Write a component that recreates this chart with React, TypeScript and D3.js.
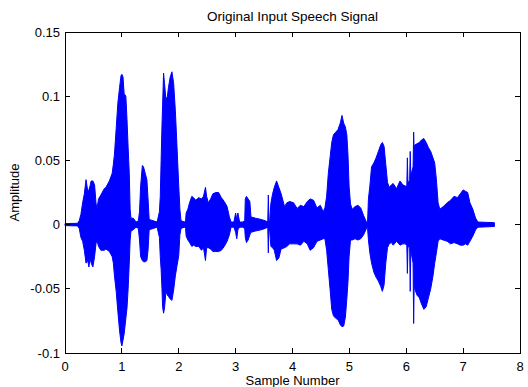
import React from "react";
import * as d3 from "d3";

// Envelope of the speech waveform (sample number in units shown on the axis)
const times = [
  0.0, 0.22, 0.25, 0.28, 0.31, 0.34, 0.37, 0.4, 0.42, 0.44, 0.46, 0.49, 0.52, 0.545, 0.56, 0.59, 0.63, 0.69, 0.72, 0.78,
  0.83, 0.85, 0.87, 0.9, 0.93, 0.96, 0.985, 1.0, 1.02, 1.04, 1.07, 1.09, 1.11, 1.13, 1.145, 1.16, 1.2, 1.25, 1.29, 1.31,
  1.33, 1.36, 1.38, 1.41, 1.44, 1.46, 1.48, 1.55, 1.62, 1.66, 1.675, 1.69, 1.705, 1.716, 1.733, 1.75, 1.775, 1.8, 1.82, 1.85,
  1.88, 1.91, 1.94, 1.97, 2.0, 2.02, 2.04, 2.1, 2.12, 2.13, 2.16, 2.19, 2.23, 2.26, 2.3, 2.35, 2.4, 2.435, 2.47, 2.49,
  2.52, 2.56, 2.6, 2.65, 2.7, 2.75, 2.8, 2.85, 2.89, 2.92, 2.97, 3.0, 3.02, 3.04, 3.07, 3.12, 3.16, 3.17, 3.19, 3.22,
  3.25, 3.27, 3.35, 3.45, 3.52, 3.565, 3.575, 3.585, 3.6, 3.62, 3.65, 3.68, 3.72, 3.76, 3.8, 3.86, 3.9, 3.95, 4.02, 4.08,
  4.14, 4.2, 4.26, 4.31, 4.37, 4.43, 4.49, 4.54, 4.57, 4.6, 4.63, 4.66, 4.69, 4.72, 4.76, 4.8, 4.84, 4.87, 4.9, 4.93,
  4.955, 4.975, 4.995, 5.02, 5.05, 5.1, 5.15, 5.2, 5.25, 5.29, 5.31, 5.32, 5.335, 5.36, 5.39, 5.43, 5.47, 5.51, 5.55, 5.58,
  5.61, 5.64, 5.67, 5.7, 5.74, 5.77, 5.83, 5.89, 5.94, 5.98, 6.01, 6.02, 6.03, 6.06, 6.07, 6.08, 6.12, 6.13, 6.14, 6.15,
  6.19, 6.23, 6.27, 6.31, 6.35, 6.39, 6.43, 6.47, 6.5, 6.53, 6.56, 6.59, 6.65, 6.72, 6.78, 6.84, 6.9, 6.95, 7.0, 7.04,
  7.08, 7.12, 7.17, 7.22, 7.26, 7.55,
];
const upper = [
  0.0008, 0.001, 0.003, 0.008, 0.017, 0.024, 0.035, 0.026, 0.027, 0.03, 0.034, 0.034, 0.031, 0.017, 0.012, 0.02, 0.023, 0.028, 0.029, 0.034,
  0.04, 0.047, 0.055, 0.075, 0.095, 0.107, 0.116, 0.117, 0.115, 0.102, 0.1, 0.082, 0.06, 0.04, 0.012, 0.005, 0.005, 0.002, 0.003, 0.01,
  0.03, 0.046, 0.045, 0.04, 0.035, 0.02, 0.004, 0.003, 0.002, 0.01, 0.022, 0.05, 0.077, 0.093, 0.118, 0.11, 0.097, 0.1, 0.107, 0.115,
  0.119, 0.11, 0.089, 0.06, 0.03, 0.012, 0.003, 0.002, 0.003, 0.009, 0.012, 0.017, 0.022, 0.021, 0.019, 0.021, 0.02, 0.022, 0.029, 0.022,
  0.017, 0.02, 0.024, 0.025, 0.025, 0.021, 0.018, 0.014, 0.006, 0.002, 0.002, 0.009, 0.004, 0.009, 0.002, 0.002, 0.003, 0.02, 0.022, 0.02,
  0.018, 0.006, 0.005, 0.004, 0.003, 0.002, 0.023, 0.003, 0.004, 0.0165, 0.024, 0.029, 0.034, 0.029, 0.024, 0.014, 0.017, 0.018, 0.017, 0.0126,
  0.015, 0.014, 0.018, 0.02, 0.019, 0.013, 0.015, 0.01, 0.013, 0.022, 0.04, 0.052, 0.064, 0.07, 0.072, 0.074, 0.079, 0.085, 0.079, 0.076,
  0.07, 0.055, 0.03, 0.016, 0.012, 0.014, 0.015, 0.013, 0.007, 0.003, 0.001, 0.002, 0.02, 0.03, 0.045, 0.048, 0.052, 0.057, 0.062, 0.064,
  0.061, 0.047, 0.033, 0.029, 0.031, 0.032, 0.028, 0.034, 0.031, 0.03, 0.03, 0.052, 0.032, 0.035, 0.057, 0.038, 0.045, 0.072, 0.055, 0.062,
  0.063, 0.064, 0.066, 0.067, 0.064, 0.06, 0.057, 0.052, 0.048, 0.035, 0.017, 0.012, 0.014, 0.017, 0.019, 0.022, 0.021, 0.024, 0.027, 0.026,
  0.025, 0.017, 0.012, 0.005, 0.002, 0.0015,
];
const lower = [
  -0.0008, -0.001, -0.003, -0.01, -0.013, -0.02, -0.03, -0.028, -0.033, -0.026, -0.03, -0.033, -0.025, -0.015, -0.012, -0.017, -0.02, -0.02, -0.019, -0.021,
  -0.025, -0.03, -0.04, -0.052, -0.068, -0.083, -0.092, -0.0945, -0.09, -0.085, -0.073, -0.065, -0.05, -0.03, -0.012, -0.005, -0.004, -0.002, -0.003, -0.012,
  -0.025, -0.028, -0.029, -0.029, -0.028, -0.02, -0.004, -0.003, -0.002, -0.01, -0.025, -0.035, -0.05, -0.064, -0.069, -0.065, -0.052, -0.055, -0.056, -0.058,
  -0.059, -0.051, -0.04, -0.032, -0.024, -0.008, -0.003, -0.002, -0.003, -0.009, -0.012, -0.014, -0.017, -0.016, -0.017, -0.017, -0.02, -0.018, -0.028, -0.018,
  -0.018, -0.019, -0.021, -0.021, -0.021, -0.02, -0.017, -0.013, -0.008, -0.002, -0.002, -0.006, -0.011, -0.004, -0.002, -0.002, -0.003, -0.01, -0.014, -0.012,
  -0.008, -0.006, -0.005, -0.004, -0.003, -0.002, -0.022, -0.003, -0.005, -0.017, -0.018, -0.02, -0.028, -0.026, -0.019, -0.018, -0.017, -0.015, -0.015, -0.015,
  -0.016, -0.013, -0.015, -0.02, -0.018, -0.013, -0.012, -0.011, -0.011, -0.02, -0.035, -0.05, -0.066, -0.071, -0.073, -0.074, -0.078, -0.0795, -0.079, -0.072,
  -0.058, -0.045, -0.025, -0.012, -0.012, -0.011, -0.012, -0.011, -0.008, -0.004, -0.002, -0.003, -0.012, -0.022, -0.03, -0.037, -0.041, -0.044, -0.048, -0.052,
  -0.047, -0.03, -0.018, -0.015, -0.014, -0.016, -0.013, -0.016, -0.015, -0.015, -0.016, -0.038, -0.017, -0.018, -0.052, -0.02, -0.03, -0.077, -0.045, -0.05,
  -0.055, -0.057, -0.062, -0.066, -0.064, -0.057, -0.05, -0.04, -0.03, -0.022, -0.013, -0.011, -0.012, -0.013, -0.015, -0.014, -0.015, -0.016, -0.016, -0.015,
  -0.016, -0.013, -0.009, -0.004, -0.002, -0.0015,
];

const xTicks = [0, 1, 2, 3, 4, 5, 6, 7, 8];
const yTicks = [-0.1, -0.05, 0, 0.05, 0.1, 0.15];
const yTickLabels = ["-0.1", "-0.05", "0", "0.05", "0.1", "0.15"];

const W = 528;
const H = 387;
const L = 65;
const R = 520;
const T = 32;
const B = 353;
const FONT = "'Liberation Sans', Arial, Helvetica, sans-serif";

export default function App() {
  const x = d3.scaleLinear().domain([0, 8]).range([L, R]);
  const y = d3.scaleLinear().domain([-0.1, 0.15]).range([B, T]);
  const pts = times.map((t, i) => ({ t, hi: upper[i], lo: lower[i] }));
  const area = d3
    .area<{ t: number; hi: number; lo: number }>()
    .x((d) => x(d.t))
    .y0((d) => y(d.lo))
    .y1((d) => y(d.hi));
  const tl = 5;
  return (
    <svg
      width={W}
      height={H}
      style={{ position: "absolute", left: 0, top: 0, background: "#fff" }}
      fontFamily={FONT}
    >
      <rect x={0} y={0} width={W} height={H} fill="#fff" />
      <path d={area(pts) || ""} fill="#0000ff" stroke="#0000ff" strokeWidth={1} strokeLinejoin="miter" />
      <g stroke="#000" strokeWidth={1} shapeRendering="crispEdges" fill="none">
        <rect x={L} y={T} width={R - L} height={B - T} />
        {xTicks.map((v) => (
          <g key={"x" + v}>
            <line x1={x(v)} x2={x(v)} y1={B} y2={B - tl} />
            <line x1={x(v)} x2={x(v)} y1={T} y2={T + tl} />
          </g>
        ))}
        {yTicks.map((v) => (
          <g key={"y" + v}>
            <line x1={L} x2={L + tl} y1={y(v)} y2={y(v)} />
            <line x1={R} x2={R - tl} y1={y(v)} y2={y(v)} />
          </g>
        ))}
      </g>
      <g fontSize={13} fill="#000">
        {xTicks.map((v) => (
          <text key={"xl" + v} x={x(v)} y={B + 17.5} textAnchor="middle">
            {String(v)}
          </text>
        ))}
        {yTicks.map((v, i) => (
          <text key={"yl" + v} x={L - 5} y={y(v) + 4.5} textAnchor="end">
            {yTickLabels[i]}
          </text>
        ))}
      </g>
      <text x={(L + R) / 2} y={21} textAnchor="middle" fontSize={13.5} fill="#000">
        Original Input Speech Signal
      </text>
      <text x={(L + R) / 2} y={384.5} textAnchor="middle" fontSize={13} fill="#000">
        Sample Number
      </text>
      <text
        transform={`translate(19, ${(T + B) / 2}) rotate(-90)`}
        textAnchor="middle"
        fontSize={13}
        fill="#000"
      >
        Amplitude
      </text>
    </svg>
  );
}
